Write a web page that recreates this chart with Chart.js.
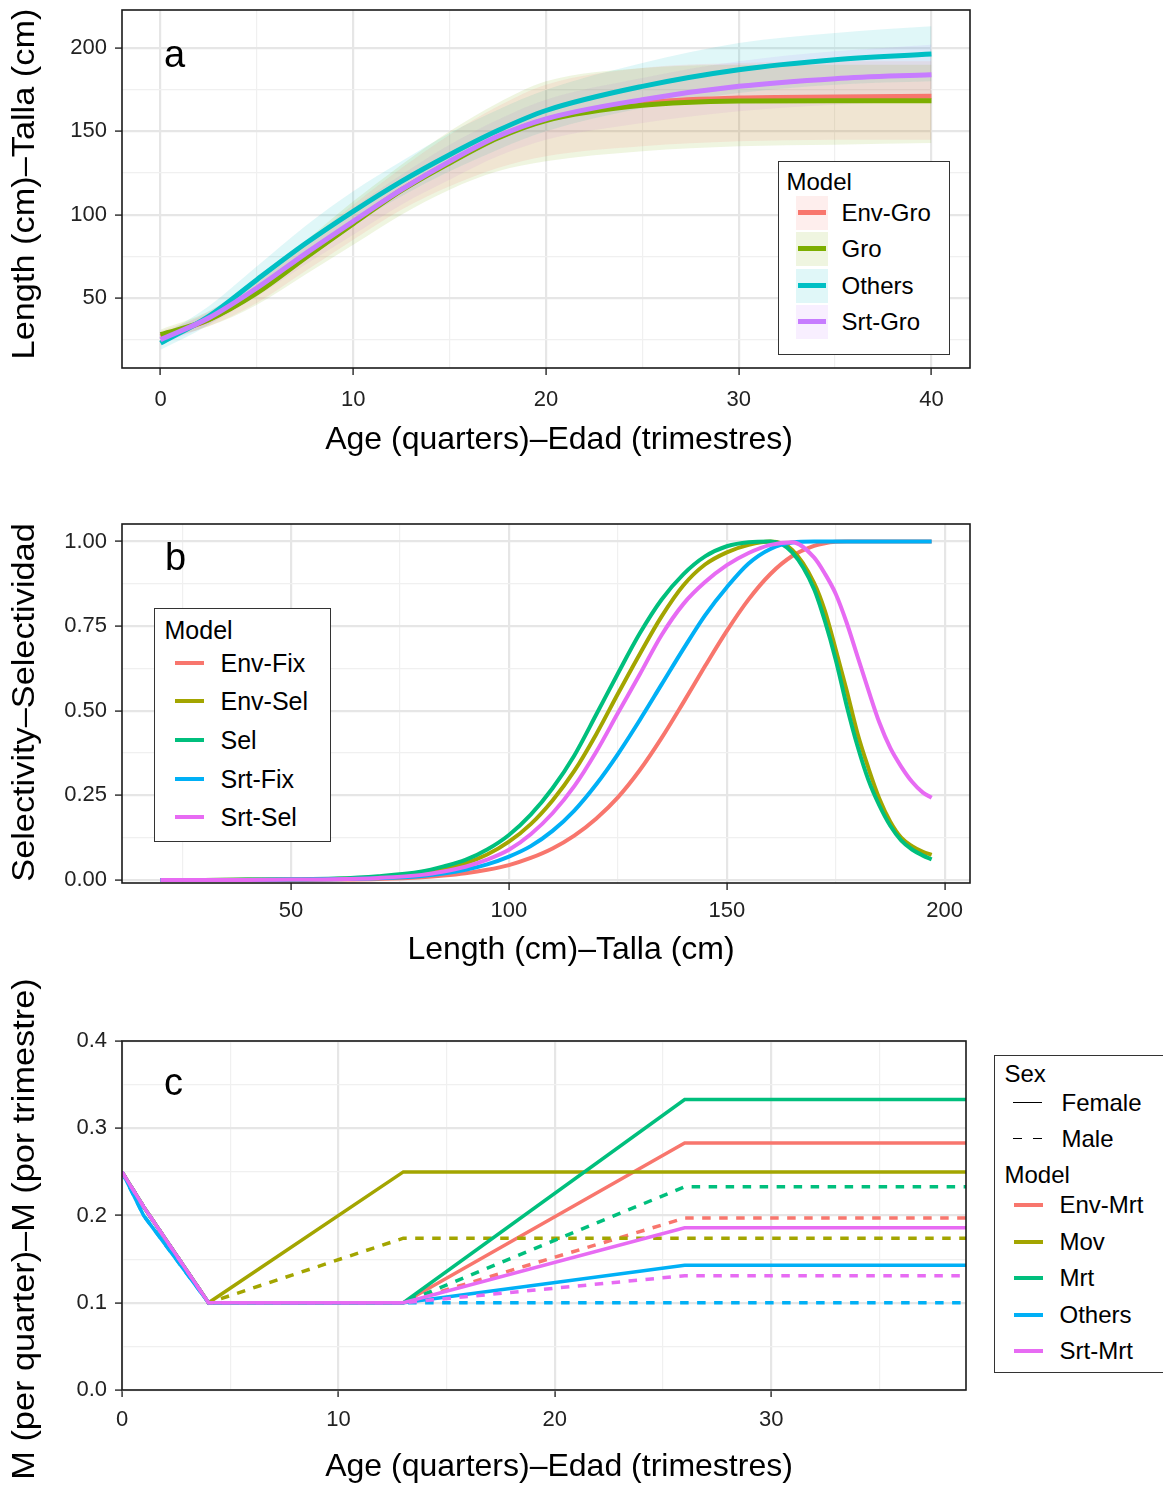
<!DOCTYPE html>
<html>
<head>
<meta charset="utf-8">
<title>Growth, selectivity and natural mortality by model</title>
<script src="https://cdn.jsdelivr.net/npm/chart.js@4.4.1/dist/chart.umd.min.js"></script>
<style>
  html, body { margin: 0; padding: 0; background: #fff; }
  #page { position: relative; width: 1163px; height: 1486px; overflow: hidden;
          font-family: "Liberation Sans", Arial, Helvetica, sans-serif; color: #000; }
  #page canvas { position: absolute; left: 0; }
  .legend { position: absolute; box-sizing: border-box; border: 1.5px solid #333; background: #fff; }
  .legend span { position: absolute; white-space: nowrap; height: 30px; line-height: 30px; }
  .legend .key { position: absolute; }
</style>
</head>
<body>
<div id="page">
  <canvas id="chartA" width="1163" height="470" style="top:0px"></canvas>
  <canvas id="chartB" width="1163" height="480" style="top:500px"></canvas>
  <canvas id="chartC" width="1163" height="526" style="top:960px"></canvas>
  <div id="legendA" class="legend" style="left:778px;top:161px;width:172px;height:194px;font-size:24px"></div>
  <div id="legendB" class="legend" style="left:154px;top:608px;width:177px;height:234px;font-size:25px"></div>
  <div id="legendC" class="legend" style="left:994px;top:1055px;width:200px;height:318px;font-size:24px"></div>
</div>
<script>
const FONT = '"Liberation Sans", Arial, Helvetica, sans-serif';

// ---- panel a: length at age (line = estimate, band = interval) ----
const ageA = [0, 2.5, 5, 7.5, 10, 12.5, 15, 17.5, 20, 25, 30, 35, 40];
const growModels = ['Env-Gro', 'Gro', 'Others', 'Srt-Gro'];
const growColors = ['#F8766D', '#7CAE00', '#00BFC4', '#C77CFF'];
const lenEnvGro = [27, 37, 53.5, 74.5, 95, 115, 131.5, 146.5, 157, 167, 170, 170.6, 171];
const lenGro    = [28, 37, 53, 74, 94.6, 114.5, 131, 146, 156.5, 165.6, 168.2, 168.4, 168.4];
const lenOthers = [22.9, 39, 61, 82.5, 102, 120, 136, 150.5, 162.5, 177, 187, 193, 196.4];
const lenSrtGro = [25, 38, 56, 76.5, 96, 115, 132, 147, 157.5, 169, 177, 181.6, 184];
const hiEnvGro = [30, 41, 59, 83, 106, 128, 148, 165, 178, 188, 191, 192, 192];
const loEnvGro = [24, 33, 47, 66, 85, 103, 117, 128, 135, 141, 144, 145, 145];
const hiGro    = [31, 42, 60, 84, 108, 130, 150, 167, 180, 188, 190, 190, 190];
const loGro    = [25, 33, 46, 64, 82, 100, 115, 126, 132, 138, 141, 142, 143];
const hiOthers = [27, 45, 69, 93, 114, 132, 149, 163, 175, 191, 203, 209, 213];
const loOthers = [19, 34, 55, 76, 94, 111, 126, 139, 150, 164, 173, 178, 180];
const hiSrtGro = [28, 42, 61, 83, 104, 124, 142, 157, 169, 182, 192, 198, 202];
const loSrtGro = [22, 34, 51, 70, 88, 106, 121, 135, 145, 155, 162, 166, 168];

// ---- panel b: selectivity at length ----
const lenB = [20, 30, 40, 50, 60, 70, 80, 85, 90, 95, 100, 105, 110, 115, 120, 125, 130, 135, 140, 145, 150, 155, 160, 165,
              170, 172.5, 175, 177.5, 180, 182.5, 185, 187.5, 190, 192.5, 195, 197];
const selModels = ['Env-Fix', 'Env-Sel', 'Sel', 'Srt-Fix', 'Srt-Sel'];
const selColors = ['#F8766D', '#A3A500', '#00BF7D', '#00B0F6', '#E76BF3'];
const selEnvFix = [0, 0, 0, 0, 0.001, 0.003, 0.008, 0.013, 0.02, 0.03, 0.044, 0.065, 0.093, 0.131, 0.181, 0.244, 0.324, 0.419, 0.524, 0.632, 0.736, 0.829, 0.904, 0.957,
                   0.987, 0.995, 0.999, 1, 1, 1, 1, 1, 1, 1, 1, 1];
const selEnvSel = [0, 0, 0.001, 0.001, 0.003, 0.008, 0.02, 0.032, 0.049, 0.075, 0.113, 0.165, 0.235, 0.322, 0.43, 0.55, 0.667, 0.778, 0.87, 0.932, 0.968, 0.99, 1, 0.975,
                   0.878, 0.795, 0.68, 0.56, 0.432, 0.33, 0.24, 0.172, 0.125, 0.1, 0.083, 0.074];
const selSel    = [0, 0, 0.001, 0.002, 0.004, 0.011, 0.025, 0.04, 0.059, 0.09, 0.133, 0.193, 0.271, 0.368, 0.488, 0.61, 0.728, 0.828, 0.903, 0.956, 0.986, 0.998, 1, 0.968,
                   0.86, 0.765, 0.65, 0.515, 0.395, 0.295, 0.22, 0.16, 0.117, 0.09, 0.072, 0.061];
const selSrtFix = [0, 0, 0, 0.001, 0.002, 0.005, 0.012, 0.019, 0.03, 0.046, 0.069, 0.1, 0.145, 0.205, 0.282, 0.372, 0.472, 0.577, 0.682, 0.782, 0.865, 0.935, 0.978, 0.997,
                   1, 1, 1, 1, 1, 1, 1, 1, 1, 1, 1, 1];
const selSrtSel = [0, 0, 0, 0.001, 0.002, 0.006, 0.015, 0.025, 0.039, 0.06, 0.089, 0.135, 0.197, 0.277, 0.378, 0.493, 0.607, 0.723, 0.815, 0.88, 0.93, 0.966, 0.99, 0.998,
                   0.953, 0.905, 0.845, 0.76, 0.66, 0.56, 0.465, 0.39, 0.335, 0.29, 0.258, 0.243];

// ---- panel c: natural mortality at age, by sex ----
const ageC = [0, 1, 4, 13, 26, 39];
const mortModels = ['Env-Mrt', 'Mov', 'Mrt', 'Others', 'Srt-Mrt'];
const mortColors = selColors;
const mEnvMrtF = [0.25, 0.21, 0.1, 0.1, 0.283, 0.283];
const mEnvMrtM = [0.25, 0.21, 0.1, 0.1, 0.197, 0.197];
const mMovF    = [0.25, 0.21, 0.1, 0.25, 0.25, 0.25];
const mMovM    = [0.25, 0.21, 0.1, 0.174, 0.174, 0.174];
const mMrtF    = [0.25, 0.21, 0.1, 0.1, 0.333, 0.333];
const mMrtM    = [0.25, 0.21, 0.1, 0.1, 0.233, 0.233];
const mOthersF = [0.25, 0.2, 0.1, 0.1, 0.143, 0.143];
const mOthersM = [0.25, 0.2, 0.1, 0.1, 0.1, 0.1];
const mSrtMrtF = [0.25, 0.21, 0.1, 0.1, 0.186, 0.186];
const mSrtMrtM = [0.25, 0.21, 0.1, 0.1, 0.131, 0.131];

// ---------------------------------------------------------------
Chart.defaults.font.family = FONT;

const pts = (xs, ys) => xs.map((x, i) => ({ x: x, y: ys[i] }));
const fade = (hex, a) => {
  const n = parseInt(hex.slice(1), 16);
  return `rgba(${n >> 16},${(n >> 8) & 255},${n & 255},${a})`;
};

// ggplot-like axis: major + minor grid, tick marks and labels only on majors
function scaleOpts(o) {
  const major = v => o.major.some(m => Math.abs(m - v) < 1e-9);
  return {
    type: 'linear', min: o.min, max: o.max,
    afterBuildTicks: s => { s.ticks = o.ticks.map(v => ({ value: v })); },
    afterFit: s => {
      if (o.width) s.width = o.width;
      if (o.height) s.height = o.height;
      s.paddingTop = 0; s.paddingBottom = 0; s.paddingLeft = 0; s.paddingRight = 0;
    },
    grid: {
      color: c => major(c.tick.value) ? '#e6e6e6' : '#f0f0f0',
      lineWidth: c => major(c.tick.value) ? 2.2 : 1.2,
      tickLength: 7, tickWidth: 1.5,
      tickColor: c => major(c.tick.value) ? '#333' : 'rgba(0,0,0,0)'
    },
    border: { display: false },
    ticks: {
      autoSkip: false, maxRotation: 0, minRotation: 0, padding: o.tickPad || 8, color: '#222',
      font: { family: FONT, size: 22 },
      callback: v => major(v) ? o.fmt(v) : ''
    },
    title: { display: false }
  };
}

// panel border, panel letter and axis titles
const framePlugin = {
  id: 'frame',
  afterDatasetsDraw(chart, args, o) {
    const { ctx, chartArea: a } = chart;
    ctx.save();
    ctx.strokeStyle = '#1a1a1a';
    ctx.lineWidth = 1.6;
    ctx.strokeRect(a.left, a.top, a.right - a.left, a.bottom - a.top);
    ctx.fillStyle = '#000';
    ctx.font = '38px ' + FONT;
    ctx.textBaseline = 'alphabetic';
    ctx.fillText(o.tag, o.x, o.y);
    ctx.restore();
  },
  afterDraw(chart, args, o) {
    const ctx = chart.ctx;
    ctx.save();
    ctx.fillStyle = '#000';
    ctx.font = '32px ' + FONT;
    ctx.textAlign = 'center';
    ctx.textBaseline = 'middle';
    ctx.fillText(o.xTitle[0], o.xTitle[1], o.xTitle[2]);
    ctx.translate(o.yTitle[1], o.yTitle[2]);
    ctx.scale(1, 1.072);
    ctx.rotate(-Math.PI / 2);
    ctx.fillText(o.yTitle[0], 0, 0);
    ctx.restore();
  }
};

function baseOptions(pad, frame) {
  return {
    responsive: false, animation: false, devicePixelRatio: 1, events: [],
    layout: { padding: pad },
    plugins: { legend: { display: false }, tooltip: { enabled: false },
               filler: { drawTime: 'beforeDatasetsDraw' }, frame: frame }
  };
}

const AGE_TITLE = 'Age (quarters)\u2013Edad (trimestres)';

// ---- chart a ----
const lenLines = [lenEnvGro, lenGro, lenOthers, lenSrtGro];
const bandHi = [hiEnvGro, hiGro, hiOthers, hiSrtGro];
const bandLo = [loEnvGro, loGro, loOthers, loSrtGro];
const dsA = [];
growModels.forEach((m, i) => {
  dsA.push({ data: pts(ageA, bandHi[i]), borderWidth: 0, borderColor: 'rgba(0,0,0,0)',
             pointRadius: 0, fill: false, order: 10, cubicInterpolationMode: 'monotone' });
  dsA.push({ data: pts(ageA, bandLo[i]), borderWidth: 0, borderColor: 'rgba(0,0,0,0)',
             pointRadius: 0, fill: dsA.length - 1, backgroundColor: fade(growColors[i], 0.12),
             order: 10, cubicInterpolationMode: 'monotone' });
});
growModels.forEach((m, i) => {
  dsA.push({ label: m, data: pts(ageA, lenLines[i]), borderColor: growColors[i], borderWidth: 5,
             pointRadius: 0, fill: false, order: 4 - i, cubicInterpolationMode: 'monotone' });
});
const optA = baseOptions({ top: 10, right: 193, bottom: 0, left: 0 },
  { tag: 'a', x: 164, y: 67, xTitle: [AGE_TITLE, 559, 440], yTitle: ['Length (cm)\u2013Talla (cm)', 25, 184] });
optA.scales = {
  x: scaleOpts({ min: -2, max: 42, ticks: [0, 5, 10, 15, 20, 25, 30, 35, 40], major: [0, 10, 20, 30, 40],
                 fmt: v => String(v), height: 102, tickPad: 12 }),
  y: scaleOpts({ min: 8, max: 222.8, ticks: [25, 50, 75, 100, 125, 150, 175, 200], major: [50, 100, 150, 200],
                 fmt: v => String(v), width: 122 })
};
new Chart(document.getElementById('chartA'), { type: 'line', data: { datasets: dsA }, options: optA, plugins: [framePlugin] });

// ---- chart b ----
const selLines = [selEnvFix, selEnvSel, selSel, selSrtFix, selSrtSel];
const dsB = selModels.map((m, i) => ({ label: m, data: pts(lenB, selLines[i]), borderColor: selColors[i],
  borderWidth: 4, pointRadius: 0, fill: false, order: 5 - i, cubicInterpolationMode: 'monotone' }));
const optB = baseOptions({ top: 24, right: 193, bottom: 0, left: 0 },
  { tag: 'b', x: 165, y: 70, xTitle: ['Length (cm)\u2013Talla (cm)', 571, 450], yTitle: ['Selectivity\u2013Selectividad', 25, 202.5] });
optB.scales = {
  x: scaleOpts({ min: 11.2, max: 205.8, ticks: [25, 50, 75, 100, 125, 150, 175, 200], major: [50, 100, 150, 200],
                 fmt: v => String(v), height: 97 }),
  y: scaleOpts({ min: -0.009, max: 1.0517, ticks: [0, 0.125, 0.25, 0.375, 0.5, 0.625, 0.75, 0.875, 1],
                 major: [0, 0.25, 0.5, 0.75, 1], fmt: v => v.toFixed(2), width: 122 })
};
new Chart(document.getElementById('chartB'), { type: 'line', data: { datasets: dsB }, options: optB, plugins: [framePlugin] });

// ---- chart c ----
const mortF = [mEnvMrtF, mMovF, mMrtF, mOthersF, mSrtMrtF];
const mortM = [mEnvMrtM, mMovM, mMrtM, mOthersM, mSrtMrtM];
const dsC = [];
mortModels.forEach((m, i) => {
  dsC.push({ label: m + ' Female', data: pts(ageC, mortF[i]), borderColor: mortColors[i], borderWidth: 3.5,
             pointRadius: 0, fill: false, tension: 0, order: 20 - 2 * i });
  dsC.push({ label: m + ' Male', data: pts(ageC, mortM[i]), borderColor: mortColors[i], borderWidth: 3.5,
             borderDash: [8.5, 8.5], pointRadius: 0, fill: false, tension: 0, order: 19 - 2 * i });
});
const optC = baseOptions({ top: 81, right: 197, bottom: 0, left: 0 },
  { tag: 'c', x: 164, y: 135, xTitle: [AGE_TITLE, 559, 507], yTitle: ['M (per quarter)\u2013M (por trimestre)', 25, 269] });
optC.scales = {
  x: scaleOpts({ min: 0, max: 39, ticks: [0, 5, 10, 15, 20, 25, 30, 35], major: [0, 10, 20, 30],
                 fmt: v => String(v), height: 96, tickPad: 10 }),
  y: scaleOpts({ min: 0, max: 0.4, ticks: [0, 0.05, 0.1, 0.15, 0.2, 0.25, 0.3, 0.35, 0.4],
                 major: [0, 0.1, 0.2, 0.3, 0.4], fmt: v => v.toFixed(1), width: 122 })
};
new Chart(document.getElementById('chartC'), { type: 'line', data: { datasets: dsC }, options: optC, plugins: [framePlugin] });

// ---- legends (HTML) ----
function addText(box, text, x, cy) {
  const s = document.createElement('span');
  s.textContent = text;
  s.style.left = (x - 1.5) + 'px';
  s.style.top = (cy - 1.5 - 15) + 'px';
  box.appendChild(s);
}
function addBar(box, x, cy, w, h, color) {
  const d = document.createElement('div');
  d.className = 'key';
  d.style.left = (x - 1.5) + 'px';
  d.style.top = (cy - 1.5 - h / 2) + 'px';
  d.style.width = w + 'px';
  d.style.height = h + 'px';
  d.style.background = color;
  box.appendChild(d);
}

const legA = document.getElementById('legendA');
addText(legA, 'Model', 9, 21);
[52, 88, 125, 161].forEach((cy, i) => {
  addBar(legA, 18, cy, 32, 34, fade(growColors[i], 0.12));
  addBar(legA, 20, cy, 28, 4.5, growColors[i]);
  addText(legA, growModels[i], 64, cy);
});

const legB = document.getElementById('legendB');
addText(legB, 'Model', 11, 22);
[55, 93, 132, 171, 209].forEach((cy, i) => {
  addBar(legB, 21, cy, 29, 4, selColors[i]);
  addText(legB, selModels[i], 67, cy);
});

const legC = document.getElementById('legendC');
addText(legC, 'Sex', 11, 19);
addBar(legC, 19, 48, 29, 1.6, '#000');
addText(legC, 'Female', 68, 48);
addBar(legC, 19, 84, 9, 1.6, '#000');
addBar(legC, 39, 84, 9, 1.6, '#000');
addText(legC, 'Male', 68, 84);
addText(legC, 'Model', 11, 120);
[150, 187, 223, 260, 296].forEach((cy, i) => {
  addBar(legC, 20, cy, 29, 4, mortColors[i]);
  addText(legC, mortModels[i], 66, cy);
});
</script>
</body>
</html>
